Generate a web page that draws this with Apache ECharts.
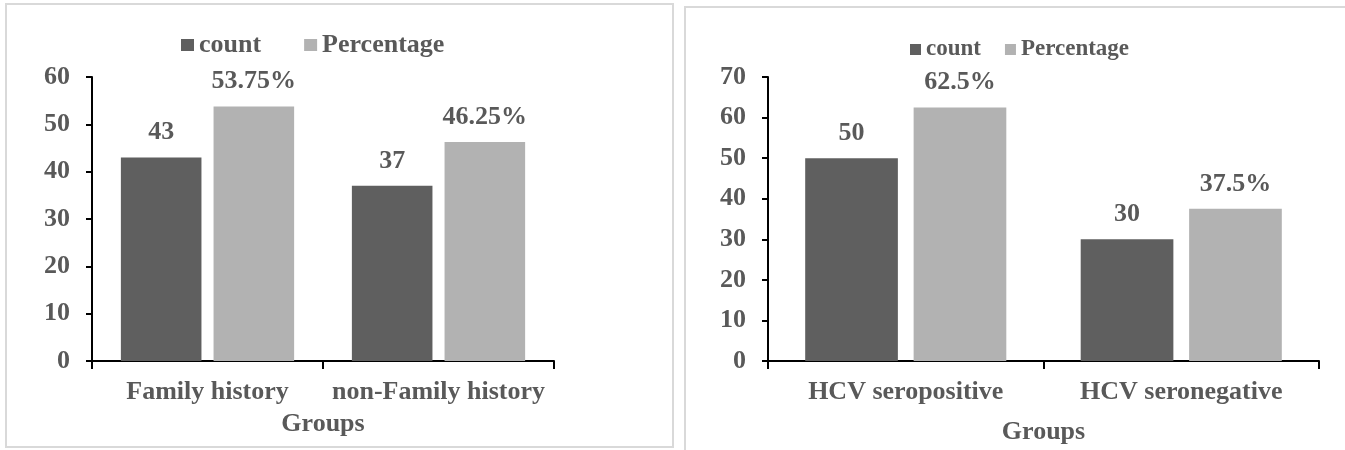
<!DOCTYPE html>
<html>
<head>
<meta charset="utf-8">
<title>Groups: count and percentage</title>
<script src="https://cdn.jsdelivr.net/npm/echarts@6/dist/echarts.min.js"></script>
<style>
  html, body { margin: 0; padding: 0; background: #ffffff; }
  #chart { width: 1345px; height: 450px; }
</style>
</head>
<body>
<div id="chart"></div>
<script>
// Family history panel
const leftCategories = ['Family history', 'non-Family history'];
const leftCount = [43, 37];
const leftPercentage = [53.75, 46.25];
const leftAxisMax = 60;

// HCV status panel
const rightCategories = ['HCV seropositive', 'HCV seronegative'];
const rightCount = [50, 30];
const rightPercentage = [62.5, 37.5];
const rightAxisMax = 70;

const seriesNames = ['count', 'Percentage'];
const axisTitle = 'Groups';

const FONT = '"Liberation Serif", "Times New Roman", serif';
const TEXT = '#595959';
const DARK = '#5f5f5f';
const LIGHT = '#b2b2b2';

function textStyle(size) {
  return { fontFamily: FONT, fontWeight: 'bold', fontSize: size, color: TEXT };
}

function xAxisFor(gridIndex, cats, nameGap) {
  return {
    type: 'category',
    gridIndex: gridIndex,
    data: cats,
    name: axisTitle,
    nameLocation: 'middle',
    nameGap: nameGap,
    nameTextStyle: textStyle(26),
    axisLine: { lineStyle: { color: '#000', width: 2 } },
    axisTick: { show: true, length: 8, lineStyle: { color: '#000', width: 2 } },
    axisLabel: Object.assign({ margin: 18, interval: 0 }, textStyle(26))
  };
}

function yAxisFor(gridIndex, max) {
  return {
    type: 'value',
    gridIndex: gridIndex,
    min: 0,
    max: max,
    interval: 10,
    splitLine: { show: false },
    axisLine: { show: true, lineStyle: { color: '#000', width: 2 } },
    axisTick: { show: true, length: 6, lineStyle: { color: '#000', width: 2 } },
    axisLabel: Object.assign({ margin: 22 }, textStyle(26))
  };
}

function barSeries(name, idx, values, color, fmt, barGap, catGap) {
  return {
    name: name,
    type: 'bar',
    xAxisIndex: idx,
    yAxisIndex: idx,
    data: values,
    barGap: barGap,
    barCategoryGap: catGap,
    itemStyle: { color: color },
    label: Object.assign({
      show: true,
      position: 'top',
      distance: 12,
      formatter: fmt
    }, textStyle(26))
  };
}

const chart = echarts.init(document.getElementById('chart'), null, { renderer: 'canvas' });

chart.setOption({
  backgroundColor: '#ffffff',
  animation: false,
  graphic: [
    { type: 'rect', shape: { x: 6, y: 4, width: 667, height: 443 },
      style: { fill: 'none', stroke: '#d9d9d9', lineWidth: 2 }, z: -1 },
    { type: 'rect', shape: { x: 685, y: 7, width: 700, height: 500 },
      style: { fill: 'none', stroke: '#d9d9d9', lineWidth: 2 }, z: -1 }
  ],
  legend: [
    {
      data: seriesNames,
      left: 176, top: 27,
      icon: 'rect', itemWidth: 13, itemHeight: 12, itemGap: 43,
      textStyle: textStyle(26),
      selectedMode: false
    },
    {
      data: seriesNames,
      left: 905, top: 33,
      icon: 'rect', itemWidth: 11, itemHeight: 11, itemGap: 24,
      textStyle: textStyle(23),
      selectedMode: false
    }
  ],
  grid: [
    { left: 92, right: 791, top: 77, bottom: 89, containLabel: false },
    { left: 768, right: 26, top: 77, bottom: 87, containLabel: false }
  ],
  xAxis: [xAxisFor(0, leftCategories, 50), xAxisFor(1, rightCategories, 58)],
  yAxis: [yAxisFor(0, leftAxisMax), yAxisFor(1, rightAxisMax)],
  series: [
    barSeries(seriesNames[0], 0, leftCount, DARK, '{c}', '15%', '25%'),
    barSeries(seriesNames[1], 0, leftPercentage, LIGHT, '{c}%', '15%', '25%'),
    barSeries(seriesNames[0], 1, rightCount, DARK, '{c}', '17%', '27%'),
    barSeries(seriesNames[1], 1, rightPercentage, LIGHT, '{c}%', '17%', '27%')
  ]
});
</script>
</body>
</html>
